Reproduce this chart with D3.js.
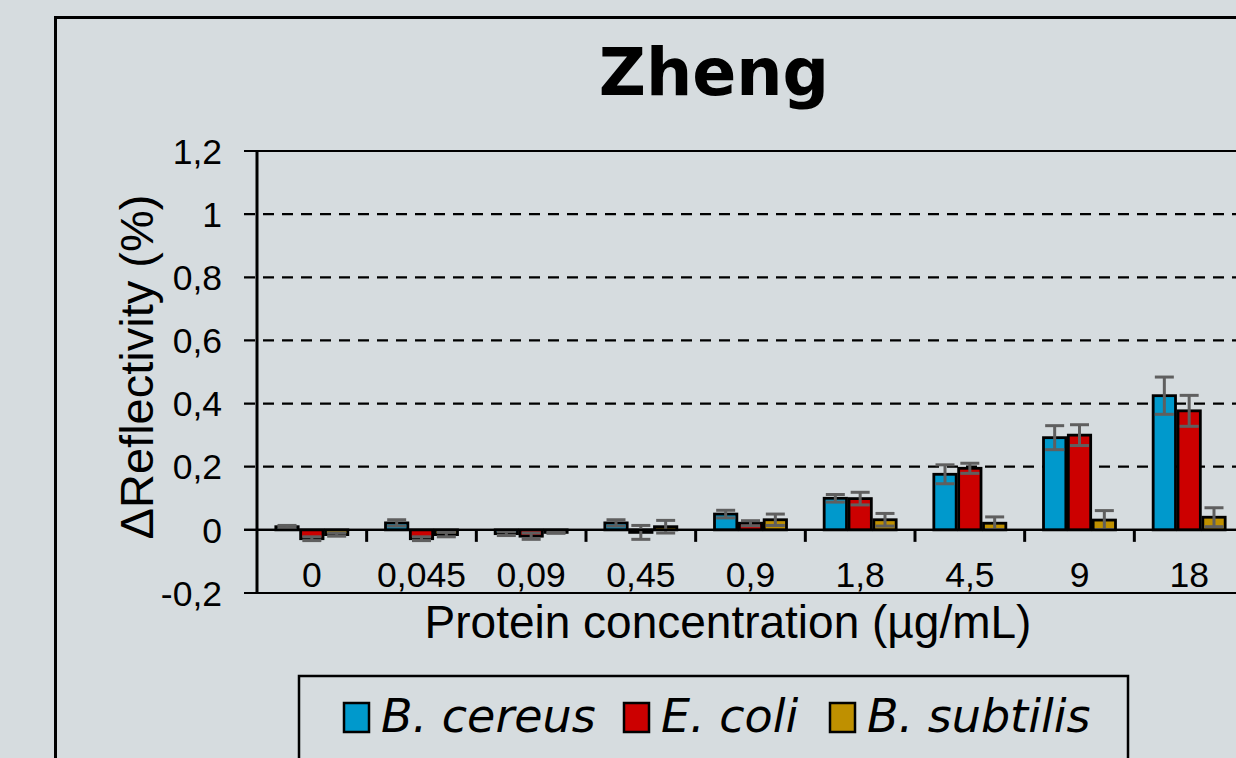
<!DOCTYPE html>
<html>
<head>
<meta charset="utf-8">
<script src="https://cdn.jsdelivr.net/npm/d3@7"></script>
<style>
  html, body { margin: 0; padding: 0; background: #d6dcdf; overflow: hidden; }
</style>
</head>
<body>
<script>
// categories and series
const categories = ["0", "0,045", "0,09", "0,45", "0,9", "1,8", "4,5", "9", "18"];
const seriesNames = ["B. cereus", "E. coli", "B. subtilis"];
const seriesColors = ["#0099cc", "#cc0000", "#bf9000"];

// values (delta reflectivity, %)
const cereus = [0.01, 0.022, -0.012, 0.022, 0.05, 0.10, 0.176, 0.292, 0.425];
const cereusErr = [0.004, 0.01, 0.006, 0.01, 0.012, 0.012, 0.03, 0.038, 0.059];
const coli = [-0.028, -0.028, -0.02, -0.008, 0.021, 0.099, 0.195, 0.30, 0.377];
const coliErr = [0.006, 0.006, 0.01, 0.022, 0.008, 0.02, 0.016, 0.033, 0.049];
const subtilis = [-0.015, -0.015, -0.008, 0.01, 0.032, 0.032, 0.021, 0.031, 0.040];
const subtilisErr = [0.005, 0.007, 0.003, 0.02, 0.018, 0.02, 0.02, 0.03, 0.03];

const yTicks = [-0.2, 0, 0.2, 0.4, 0.6, 0.8, 1, 1.2];

const W = 1236, H = 758;
const svg = d3.select("body").append("svg")
  .attr("width", W)
  .attr("height", H);

svg.append("rect")
  .attr("width", W)
  .attr("height", H)
  .attr("fill", "#d6dcdf");

// outer chart frame (cut off at right and bottom)
svg.append("rect")
  .attr("x", 55.5)
  .attr("y", 17.5)
  .attr("width", 1300)
  .attr("height", 900)
  .attr("fill", "none")
  .attr("stroke", "#000")
  .attr("stroke-width", 3);

// title
svg.append("text")
  .attr("x", 714)
  .attr("y", 95)
  .attr("text-anchor", "middle")
  .attr("font-family", "'DejaVu Sans', Verdana, sans-serif")
  .attr("font-weight", "bold")
  .attr("font-size", 65)
  .text("Zheng");

// scales
const plotLeft = 257, plotRight = 1244;
const x0 = d3.scaleBand()
  .domain(categories)
  .range([plotLeft, plotRight]);
const groupW = 72;
const x1 = d3.scaleBand()
  .domain(seriesNames)
  .range([0, groupW])
  .paddingInner(0.1);
const y = d3.scaleLinear()
  .domain([-0.2, 1.2])
  .range([593, 151]);

// comma decimals, plain hyphen for minus
const fmt = v => d3.format(".1~f")(v).replace(".", ",").replace("\u2212", "-");

// gridlines
svg.append("g")
  .selectAll("line")
  .data(yTicks)
  .join("line")
  .attr("x1", plotLeft - 13)
  .attr("x2", W + 10)
  .attr("y1", d => y(d))
  .attr("y2", d => y(d))
  .attr("stroke", "#000")
  .attr("stroke-width", 2.2)
  .attr("stroke-dasharray", d => (d === 0 || d === -0.2 || d === 1.2) ? null : "11,8");

// y tick labels
svg.append("g")
  .selectAll("text")
  .data(yTicks)
  .join("text")
  .attr("x", 222)
  .attr("y", d => y(d))
  .attr("dy", "0.36em")
  .attr("text-anchor", "end")
  .attr("font-family", "'Liberation Sans', Arial, sans-serif")
  .attr("font-size", 35.5)
  .text(fmt);

// y axis line
svg.append("line")
  .attr("x1", plotLeft)
  .attr("x2", plotLeft)
  .attr("y1", y(1.2))
  .attr("y2", y(-0.2))
  .attr("stroke", "#000")
  .attr("stroke-width", 3);

// category tick marks on the zero line
svg.append("g")
  .selectAll("line")
  .data(categories.slice(1))
  .join("line")
  .attr("x1", d => x0(d))
  .attr("x2", d => x0(d))
  .attr("y1", y(0))
  .attr("y2", y(0) + 12)
  .attr("stroke", "#000")
  .attr("stroke-width", 3);

// x tick labels
svg.append("g")
  .selectAll("text")
  .data(categories)
  .join("text")
  .attr("x", d => x0(d) + x0.bandwidth() / 2)
  .attr("y", 587)
  .attr("text-anchor", "middle")
  .attr("font-family", "'Liberation Sans', Arial, sans-serif")
  .attr("font-size", 35.5)
  .text(d => d);

// bars
const values = [cereus, coli, subtilis];
const errors = [cereusErr, coliErr, subtilisErr];
const barData = [];
categories.forEach((c, i) => {
  seriesNames.forEach((s, j) => {
    barData.push({ cat: c, series: s, color: seriesColors[j], value: values[j][i], err: errors[j][i] });
  });
});

const offset = (x0.bandwidth() - groupW) / 2;
const bars = svg.append("g");
bars.selectAll("rect")
  .data(barData)
  .join("rect")
  .attr("x", d => x0(d.cat) + offset + x1(d.series))
  .attr("y", d => y(Math.max(0, d.value)))
  .attr("width", x1.bandwidth())
  .attr("height", d => Math.abs(y(d.value) - y(0)))
  .attr("fill", d => d.color)
  .attr("stroke", "#000")
  .attr("stroke-width", 2.8);

// error bars
const errG = svg.append("g")
  .attr("stroke", "#5f5f5f")
  .attr("stroke-width", 3);
barData.forEach(d => {
  const cx = x0(d.cat) + offset + x1(d.series) + x1.bandwidth() / 2;
  const top = y(d.value + d.err), bot = y(d.value - d.err);
  errG.append("line").attr("x1", cx).attr("x2", cx).attr("y1", top).attr("y2", bot);
  errG.append("line").attr("x1", cx - 9.5).attr("x2", cx + 9.5).attr("y1", top).attr("y2", top);
  errG.append("line").attr("x1", cx - 9.5).attr("x2", cx + 9.5).attr("y1", bot).attr("y2", bot);
});

// zero line drawn over bars
svg.append("line")
  .attr("x1", plotLeft - 13)
  .attr("x2", W + 10)
  .attr("y1", y(0))
  .attr("y2", y(0))
  .attr("stroke", "#000")
  .attr("stroke-width", 2.2);

// axis titles
svg.append("text")
  .attr("x", 728)
  .attr("y", 638)
  .attr("text-anchor", "middle")
  .attr("font-family", "'Liberation Sans', Arial, sans-serif")
  .attr("font-size", 46)
  .text("Protein concentration (µg/mL)");

svg.append("text")
  .attr("transform", "translate(153,367) rotate(-90)")
  .attr("text-anchor", "middle")
  .attr("font-family", "'Liberation Sans', Arial, sans-serif")
  .attr("font-size", 47)
  .text("ΔReflectivity (%)");

// legend
const legend = svg.append("g");
legend.append("rect")
  .attr("x", 299)
  .attr("y", 676)
  .attr("width", 829)
  .attr("height", 200)
  .attr("fill", "none")
  .attr("stroke", "#000")
  .attr("stroke-width", 2.5);

const legendX = [344, 624, 830];
seriesNames.forEach((s, j) => {
  legend.append("rect")
    .attr("x", legendX[j])
    .attr("y", 703)
    .attr("width", 25)
    .attr("height", 29)
    .attr("fill", seriesColors[j])
    .attr("stroke", "#000")
    .attr("stroke-width", 2.5);
  legend.append("text")
    .attr("x", legendX[j] + 37)
    .attr("y", 732)
    .attr("font-family", "'DejaVu Sans', Verdana, sans-serif")
    .attr("font-style", "italic")
    .attr("font-size", 46)
    .text(s);
});
</script>
</body>
</html>
